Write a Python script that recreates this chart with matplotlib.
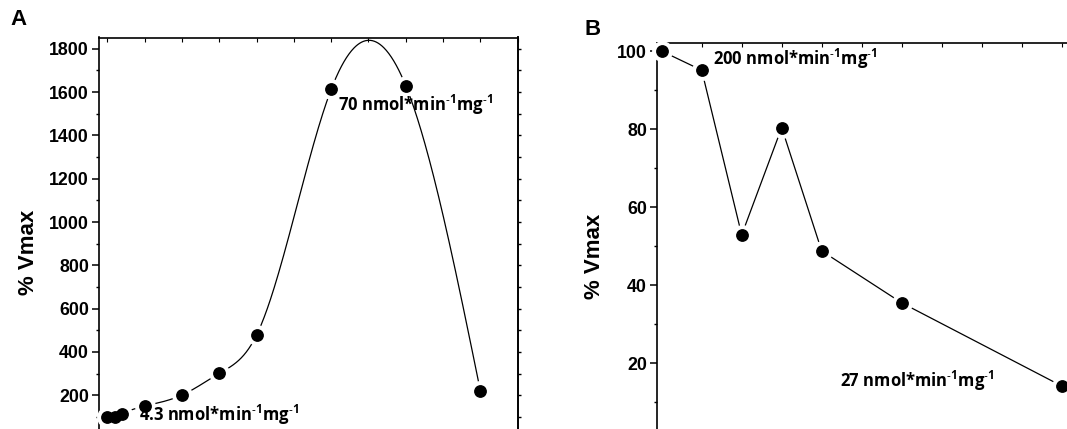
import numpy as np
import matplotlib
matplotlib.use("Agg")
import matplotlib.pyplot as plt
from matplotlib.ticker import MultipleLocator

plt.rcParams['font.family'] = ['Liberation Sans', 'DejaVu Sans']
plt.rcParams['mathtext.fontset'] = 'custom'
plt.rcParams['mathtext.rm'] = 'Open Sans:bold'
plt.rcParams['mathtext.bf'] = 'Open Sans:bold'
plt.rcParams['mathtext.it'] = 'Open Sans:bold'

# ---- data ----
xA = [0, 0.2, 0.4, 1, 2, 3, 4, 6, 8, 10]
yA = [100, 100, 115, 150, 201, 301, 478, 1612, 1630, 222]

xB = [0, 1, 2, 3, 4, 6, 10]
yB = [100, 95.1, 52.9, 80.4, 48.8, 35.5, 14.2]

SUP = "$^{\u2010\\mathrm{1}}$"
labelA_high = "70 nmol*min" + SUP + "mg" + SUP
labelA_low = "4.3 nmol*min" + SUP + "mg" + SUP
labelB_high = "200 nmol*min" + SUP + "mg" + SUP
labelB_low = "27 nmol*min" + SUP + "mg" + SUP
ylabel = "% Vmax"


def natural_spline(x, y, n=600):
    x = np.asarray(x, float)
    y = np.asarray(y, float)
    k = len(x)
    h = np.diff(x)
    A = np.zeros((k, k))
    r = np.zeros(k)
    A[0, 0] = 1
    A[-1, -1] = 1
    for i in range(1, k - 1):
        A[i, i - 1] = h[i - 1]
        A[i, i] = 2 * (h[i - 1] + h[i])
        A[i, i + 1] = h[i]
        r[i] = 3 * ((y[i + 1] - y[i]) / h[i] - (y[i] - y[i - 1]) / h[i - 1])
    c = np.linalg.solve(A, r)
    xs = np.linspace(x[0], x[-1], n)
    ys = np.empty_like(xs)
    for j, xv in enumerate(xs):
        i = min(np.searchsorted(x, xv, side='right') - 1, k - 2)
        i = max(i, 0)
        dx = xv - x[i]
        b = (y[i + 1] - y[i]) / h[i] - h[i] * (2 * c[i] + c[i + 1]) / 3
        d = (c[i + 1] - c[i]) / (3 * h[i])
        ys[j] = y[i] + b * dx + c[i] * dx ** 2 + d * dx ** 3
    return xs, ys


W, H = 1067, 429
fig = plt.figure(figsize=(W / 100, H / 100), dpi=100)

annfont = dict(fontsize=12, fontweight='bold', family=['Open Sans', 'DejaVu Sans'])


def style(ax, ymajor, yminor):
    for s in ['left', 'top', 'right']:
        ax.spines[s].set_linewidth(1.2)
    ax.spines['bottom'].set_visible(False)
    ax.yaxis.set_major_locator(MultipleLocator(ymajor))
    ax.yaxis.set_minor_locator(MultipleLocator(yminor))
    ax.xaxis.set_major_locator(MultipleLocator(1))
    ax.tick_params(axis='y', which='major', direction='out', length=5, width=1.1,
                   pad=2, labelsize=12.8)
    ax.tick_params(axis='y', which='minor', direction='out', length=2.5, width=1.0)
    ax.tick_params(axis='x', which='both', top=True, bottom=False, labelbottom=False,
                   labeltop=False, direction='in', length=3, width=0.8)


def draw(ax, x, y, xs, ys):
    ax.plot(xs, ys, color='black', lw=0.9, zorder=2, clip_on=False)
    ax.plot(x, y, 'o', ms=14, color='white', mec='white', zorder=3, clip_on=False)
    ax.plot(x, y, 'o', ms=8.2, color='black', mec='black', zorder=4, clip_on=False)


# ---- Panel A ----
axA = fig.add_axes([98.8 / W, 1 - 438.6 / H, 418.8 / W, 401.1 / H])
xs, ys = natural_spline(xA, yA)
draw(axA, xA, yA, xs, ys)
axA.set_xlim(-0.23, 11.0)
axA.set_ylim(0, 1852)
style(axA, 200, 100)
secA = axA.secondary_yaxis('right')
secA.yaxis.set_major_locator(MultipleLocator(100))
secA.tick_params(direction='out', length=2.5, width=1.0, labelright=False)
secA.spines['right'].set_linewidth(1.2)
axA.set_yticks(np.arange(200, 1801, 200))
for lab in axA.get_yticklabels():
    lab.set_fontweight('bold')
axA.text(6.18, 1514, labelA_high, ha='left', va='baseline', **annfont, zorder=5)
axA.text(0.86, 83, labelA_low, ha='left', va='baseline', **annfont, zorder=5, clip_on=False)

# ---- Panel B ----
axB = fig.add_axes([656.7 / W, 1 - 441.4 / H, 425 / W, 398.1 / H])
draw(axB, xB, yB, xB, yB)
axB.set_xlim(-0.125, 10.5)
axB.set_ylim(0, 102)
style(axB, 20, 10)
axB.set_yticks(np.arange(20, 101, 20))
for lab in axB.get_yticklabels():
    lab.set_fontweight('bold')
axB.text(1.275, 96.4, labelB_high, ha='left', va='baseline', **annfont, zorder=5)
axB.text(4.46, 14.0, labelB_low, ha='left', va='baseline', **annfont, zorder=5)

# ---- labels ----
fig.text(28.5 / W, 1 - 252.5 / H, ylabel, rotation=90, ha='center', va='center',
         fontsize=16, fontweight='bold')
fig.text(594 / W, 1 - 256.7 / H, ylabel, rotation=90, ha='center', va='center',
         fontsize=16, fontweight='bold')
fig.text(10 / W, 1 - 25 / H, "A", ha='left', va='baseline', fontsize=16, fontweight='bold')
fig.text(585 / W, 1 - 35 / H, "B", ha='left', va='baseline', fontsize=16, fontweight='bold')

fig.savefig("out.png", dpi=100)
